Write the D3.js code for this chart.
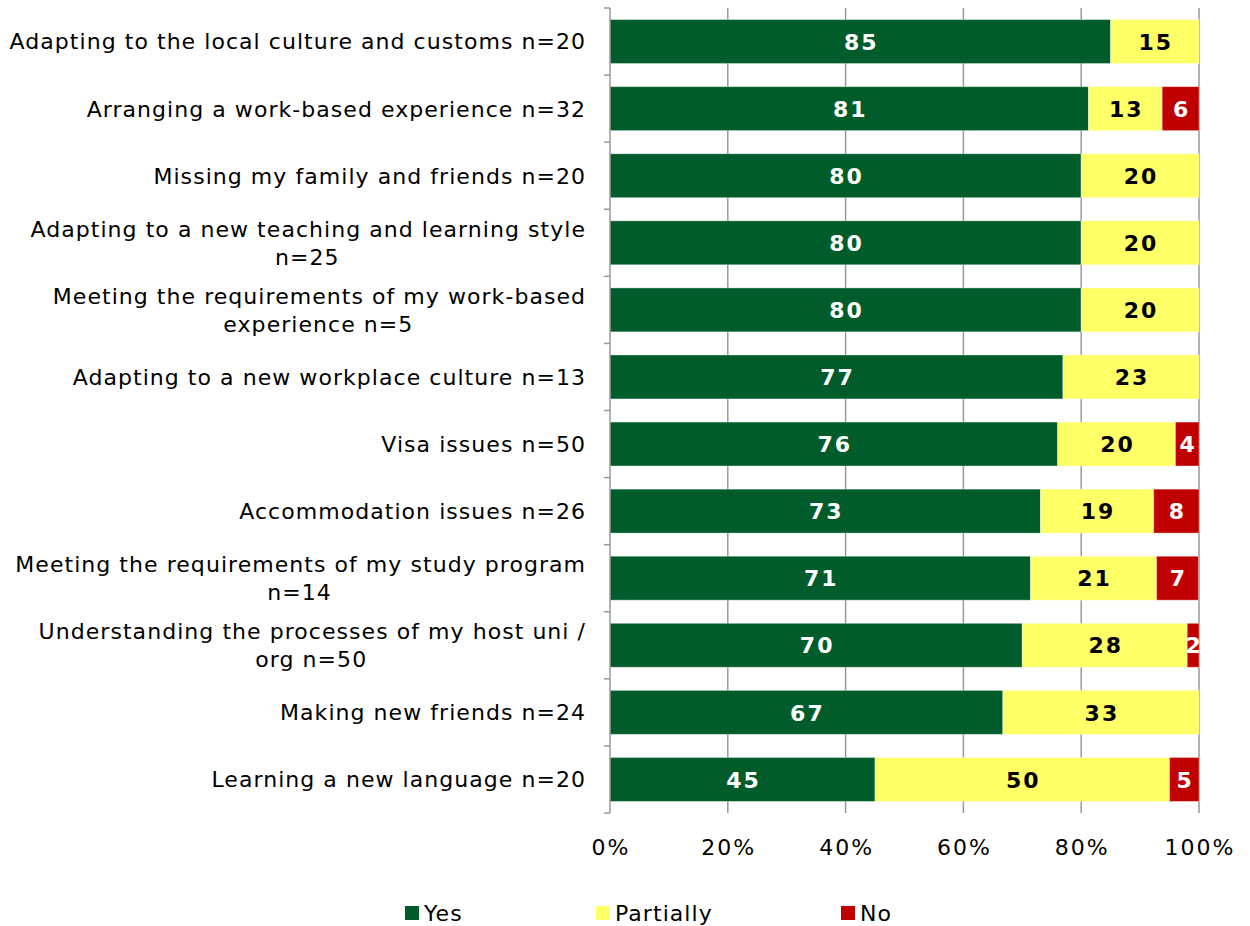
<!DOCTYPE html>
<html><head><meta charset="utf-8">
<script src="https://cdn.jsdelivr.net/npm/d3@7"></script>
<style>body{margin:0;background:#fff}svg{display:block}</style>
</head><body>
<svg id="c" width="1250" height="926"></svg>
<script>
const categories = [
  ["Adapting to the local culture and customs n=20"],
  ["Arranging a work-based experience n=32"],
  ["Missing my family and friends n=20"],
  ["Adapting to a new teaching and learning style", "n=25"],
  ["Meeting the requirements of my work-based", "experience n=5"],
  ["Adapting to a new workplace culture n=13"],
  ["Visa issues n=50"],
  ["Accommodation issues n=26"],
  ["Meeting the requirements of my study program", "n=14"],
  ["Understanding the processes of my host uni /", "org n=50"],
  ["Making new friends n=24"],
  ["Learning a new language n=20"]
];
const yesValues = [85, 81.25, 80, 80, 80, 76.9, 76, 73.1, 71.4, 70, 66.7, 45];
const partiallyValues = [15, 12.5, 20, 20, 20, 23.1, 20, 19.2, 21.4, 28, 33.3, 50];
const noValues = [0, 6.25, 0, 0, 0, 0, 4, 7.7, 7.1, 2, 0, 5];
const seriesNames = ["Yes", "Partially", "No"];
const tickValues = [0, 20, 40, 60, 80, 100];

(function () {
const colors = {Yes: "#005c2b", Partially: "#ffff66", No: "#c00000"};
const labelColors = {Yes: "#ffffff", Partially: "#000000", No: "#ffffff"};

const svg = d3.select("#c");
const font = "'DejaVu Sans', Verdana, sans-serif";
const pLeft = 610, pRight = 1199, pTop = 8, pBottom = 813;
const ls = 1.05;

const x = d3.scaleLinear().domain([0, 100]).range([pLeft, pRight]);
const y = d3.scaleBand().domain(d3.range(categories.length)).range([pTop, pBottom])
  .paddingInner(0.345).paddingOuter(0.1725);

svg.append("g").selectAll("line").data(tickValues.filter(d => d > 0)).join("line")
  .attr("x1", d => x(d)).attr("x2", d => x(d)).attr("y1", pTop).attr("y2", pBottom)
  .attr("stroke", "#999").attr("stroke-width", 1.5);

const rows = categories.map((c, i) => ({i, Yes: yesValues[i], Partially: partiallyValues[i], No: noValues[i]}));
const stack = d3.stack().keys(seriesNames)(rows);

const g = svg.append("g");
stack.forEach(s => {
  const key = s.key;
  s.forEach(d => {
    const w = x(d[1]) - x(d[0]);
    if (w <= 0) return;
    g.append("rect").attr("x", x(d[0])).attr("y", y(d.data.i))
      .attr("width", w).attr("height", y.bandwidth())
      .attr("fill", colors[key]).attr("stroke", "rgba(255,255,255,0.35)").attr("stroke-width", 1);
    g.append("text").attr("x", (x(d[0]) + x(d[1])) / 2 + 1).attr("y", y(d.data.i) + y.bandwidth() / 2)
      .attr("dy", "0.37em").attr("text-anchor", "middle")
      .attr("font-family", font).attr("font-weight", "bold").attr("font-size", 22)
      .attr("letter-spacing", 2)
      .attr("fill", labelColors[key]).text(Math.round(d.data[key]));
  });
});

const yAxis = svg.append("g");
yAxis.append("line").attr("x1", pLeft).attr("x2", pLeft).attr("y1", pTop).attr("y2", pBottom)
  .attr("stroke", "#999").attr("stroke-width", 1.5);
d3.range(categories.length + 1).forEach(k => {
  const yy = pTop + k * y.step();
  yAxis.append("line").attr("x1", pLeft - 6).attr("x2", pLeft).attr("y1", yy).attr("y2", yy)
    .attr("stroke", "#999").attr("stroke-width", 1.5);
});

const labG = svg.append("g").attr("font-family", font).attr("font-size", 22).attr("fill", "#000")
  .attr("letter-spacing", ls);
categories.forEach((lines, i) => {
  const cy = y(i) + y.bandwidth() / 2;
  if (lines.length === 1) {
    labG.append("text").attr("x", 585 + ls).attr("y", cy).attr("dy", "0.36em")
      .attr("text-anchor", "end").text(lines[0]);
  } else {
    const t1 = labG.append("text").attr("x", 585 + ls).attr("y", cy - 14).attr("dy", "0.36em")
      .attr("text-anchor", "end").text(lines[0]);
    const w1 = t1.node().getComputedTextLength();
    labG.append("text").attr("x", 585 - w1 / 2).attr("y", cy + 14).attr("dy", "0.36em")
      .attr("text-anchor", "middle").text(lines[1]);
  }
});

svg.append("g").selectAll("text").data(tickValues).join("text")
  .attr("x", d => x(d) + 1).attr("y", 855).attr("text-anchor", "middle")
  .attr("font-family", font).attr("font-size", 22).attr("fill", "#000")
  .attr("letter-spacing", 2)
  .text(d => d + "%");

const legendX = [405, 596, 841];
const leg = svg.append("g");
seriesNames.forEach((n, i) => {
  leg.append("rect").attr("x", legendX[i]).attr("y", 906).attr("width", 14).attr("height", 14)
    .attr("fill", colors[n]);
  leg.append("text").attr("x", legendX[i] + 19).attr("y", 913).attr("dy", "0.36em")
    .attr("font-family", font).attr("font-size", 22).attr("fill", "#000")
    .attr("letter-spacing", ls).text(n);
});
})();
</script>
</body></html>
